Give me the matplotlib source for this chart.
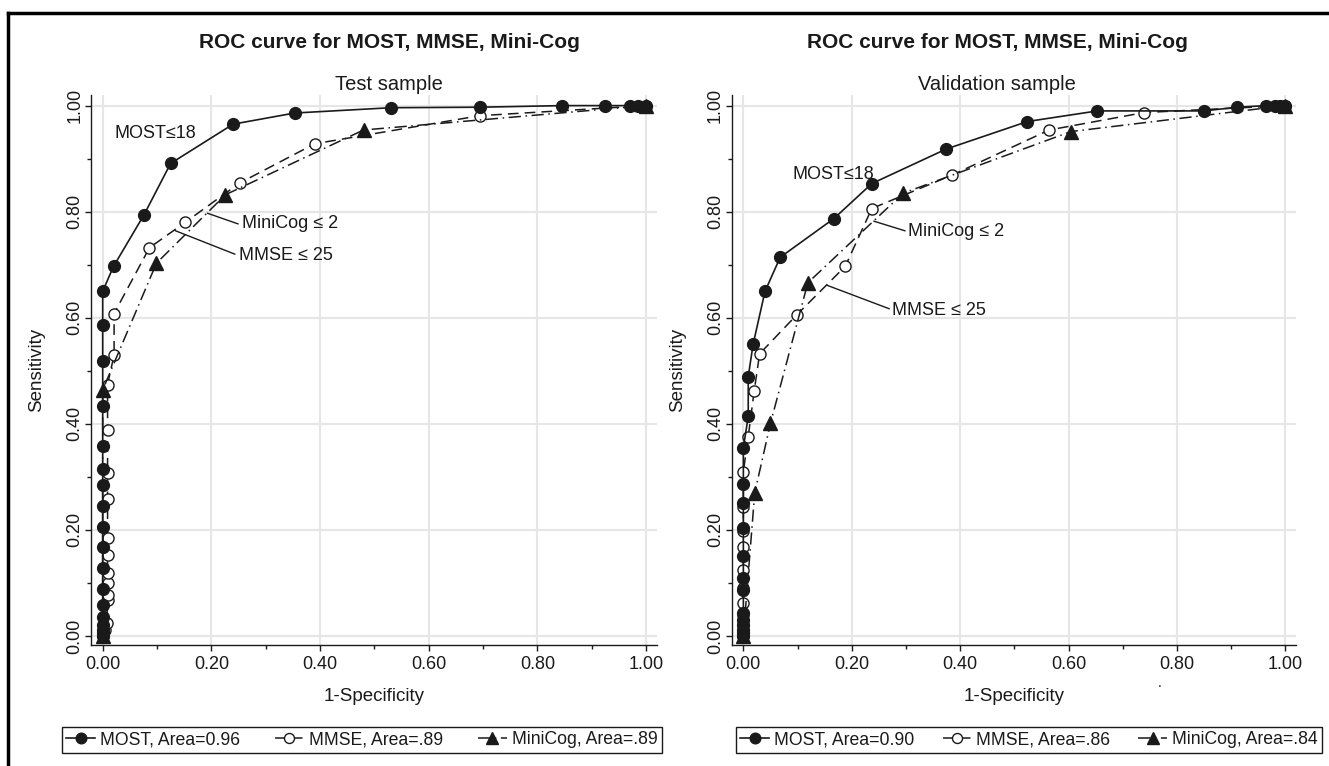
import matplotlib
matplotlib.use("Agg")
import matplotlib.pyplot as plt
from matplotlib.lines import Line2D
from matplotlib.ticker import MultipleLocator, FormatStrFormatter

plt.rcParams['font.family'] = ['Liberation Sans', 'DejaVu Sans']

# ---------------- data ----------------
# Test sample
test_most_fpr = [0, 0, 0, 0, 0, 0, 0, 0, 0, 0, 0, 0, 0, 0, 0, 0, 0, 0,
                 0.02, 0.076, 0.125, 0.24, 0.353, 0.53, 0.694, 0.846, 0.924, 0.97, 0.985, 1.0]
test_most_sens = [0, 0.005, 0.012, 0.02, 0.035, 0.058, 0.088, 0.128, 0.168, 0.205, 0.246,
                  0.285, 0.315, 0.358, 0.433, 0.519, 0.587, 0.650,
                  0.697, 0.794, 0.891, 0.965, 0.986, 0.996, 0.997, 1.0, 1.0, 1.0, 1.0, 1.0]

test_mmse_fpr = [0, 0.004, 0.008, 0.009, 0.009, 0.009, 0.009, 0.009, 0.009, 0.009, 0.009,
                 0.009, 0.009, 0.021, 0.021, 0.086, 0.152, 0.252, 0.39, 0.694, 1.0]
test_mmse_sens = [0, 0.012, 0.025, 0.068, 0.077, 0.10, 0.119, 0.152, 0.184, 0.258, 0.307,
                  0.389, 0.474, 0.530, 0.608, 0.732, 0.780, 0.854, 0.928, 0.981, 1.0]

test_mini_fpr = [0, 0, 0.099, 0.226, 0.48, 1.0]
test_mini_sens = [0, 0.464, 0.703, 0.832, 0.954, 1.0]

# Validation sample
val_most_fpr = [0, 0, 0, 0, 0, 0, 0, 0, 0, 0, 0, 0, 0,
                0.009, 0.009, 0.018, 0.04, 0.068, 0.167, 0.237, 0.374, 0.524, 0.653,
                0.85, 0.911, 0.965, 0.98, 0.99, 1.0]
val_most_sens = [0, 0.005, 0.012, 0.02, 0.03, 0.043, 0.087, 0.109, 0.151, 0.204, 0.251,
                 0.287, 0.355,
                 0.414, 0.489, 0.550, 0.650, 0.714, 0.787, 0.853, 0.918, 0.970, 0.990,
                 0.990, 0.997, 1.0, 1.0, 1.0, 1.0]

val_mmse_fpr = [0, 0, 0, 0, 0, 0, 0, 0, 0, 0,
                0.009, 0.02, 0.03, 0.099, 0.188, 0.237, 0.385, 0.564, 0.74, 1.0]
val_mmse_sens = [0, 0.02, 0.04, 0.062, 0.09, 0.125, 0.168, 0.197, 0.244, 0.310,
                 0.376, 0.462, 0.532, 0.606, 0.697, 0.806, 0.869, 0.954, 0.987, 1.0]

val_mini_fpr = [0, 0.021, 0.05, 0.119, 0.295, 0.604, 1.0]
val_mini_sens = [0, 0.27, 0.401, 0.666, 0.835, 0.951, 1.0]

titles = ["ROC curve for MOST, MMSE, Mini-Cog", "ROC curve for MOST, MMSE, Mini-Cog"]
subtitles = ["Test sample", "Validation sample"]
legend_labels = [["MOST, Area=0.96", "MMSE, Area=.89", "MiniCog, Area=.89"],
                 ["MOST, Area=0.90", "MMSE, Area=.86", "MiniCog, Area=.84"]]

panels = [
    dict(most=(test_most_fpr, test_most_sens), mmse=(test_mmse_fpr, test_mmse_sens),
         mini=(test_mini_fpr, test_mini_sens)),
    dict(most=(val_most_fpr, val_most_sens), mmse=(val_mmse_fpr, val_mmse_sens),
         mini=(val_mini_fpr, val_mini_sens)),
]

# annotations: (text, text_xy, leader line (start, end) or None)
annots = [
    [("MOST\u226418", (0.022, 0.948), None),
     ("MiniCog \u2264 2", (0.257, 0.777), ((0.193, 0.797), (0.249, 0.777))),
     ("MMSE \u2264 25", (0.25, 0.718), ((0.134, 0.764), (0.243, 0.72)))],
    [("MOST\u226418", (0.09, 0.871), None),
     ("MiniCog \u2264 2", (0.303, 0.763), ((0.241, 0.782), (0.298, 0.764))),
     ("MMSE \u2264 25", (0.275, 0.614), ((0.155, 0.661), (0.269, 0.617)))],
]

W, H = 1329, 766
fig = plt.figure(figsize=(W / 100, H / 100), dpi=100)
fig.patch.set_facecolor("white")

ax_px = [(91, 656.7), (731.7, 1296)]
ytop_px, ybot_px = 95, 645
legend_px = [(62, 662), (736, 1322)]
title_cx = [389, 997]

ink = "#1a1a1a"

for i, p in enumerate(panels):
    x0, x1 = ax_px[i]
    ax = fig.add_axes([x0 / W, 1 - ybot_px / H, (x1 - x0) / W, (ybot_px - ytop_px) / H])
    ax.set_xlim(-0.0215, 1.0195)
    ax.set_ylim(-0.017, 1.02)
    ax.xaxis.set_major_locator(MultipleLocator(0.2))
    ax.xaxis.set_minor_locator(MultipleLocator(0.1))
    ax.yaxis.set_major_locator(MultipleLocator(0.2))
    ax.yaxis.set_minor_locator(MultipleLocator(0.1))
    ax.xaxis.set_major_formatter(FormatStrFormatter("%.2f"))
    ax.yaxis.set_major_formatter(FormatStrFormatter("%.2f"))
    ax.grid(True, which="major", color="#e6e6e6", lw=1.5)
    ax.set_axisbelow(True)
    for s in ["top", "right"]:
        ax.spines[s].set_visible(False)
    for s in ["left", "bottom"]:
        ax.spines[s].set_color(ink)
        ax.spines[s].set_linewidth(1.0)
    ax.tick_params(axis="both", which="major", length=4.5, width=1, color=ink,
                   labelsize=13, labelcolor=ink)
    ax.tick_params(axis="y", which="major", pad=1)
    ax.tick_params(axis="both", which="minor", length=3, width=1, color=ink)
    for lab in ax.get_yticklabels():
        lab.set_rotation(90)
        lab.set_va("center")
    ax.set_xlabel("1-Specificity", fontsize=13.5, color=ink, labelpad=11)
    ax.set_ylabel("Sensitivity", fontsize=13.5, color=ink, labelpad=15)

    l1, = ax.plot(*p["mmse"], ls=(0, (7, 4)), lw=1.1, color=ink, marker="o", ms=8,
                  mfc="white", mec=ink, mew=1.0, zorder=3)
    l2, = ax.plot(*p["mini"], ls=(0, (8, 3, 1, 3)), lw=1.1, color=ink, marker="^", ms=9.5,
                  mfc=ink, mec=ink, zorder=4)
    l0, = ax.plot(*p["most"], ls="-", lw=1.2, color=ink, marker="o", ms=8.5,
                  mfc=ink, mec=ink, zorder=5)

    for txt, (tx, ty), ln in annots[i]:
        ax.text(tx, ty, txt, fontsize=13, color=ink, va="center", ha="left", zorder=6)
        if ln is not None:
            (ax_, ay_), (bx_, by_) = ln
            ax.plot([ax_, bx_], [ay_, by_], color=ink, lw=1.0, zorder=6)

    fig.text(title_cx[i] / W, 1 - 42 / H, titles[i], ha="center", va="center",
             fontsize=15, fontweight="bold", color=ink)
    fig.text(title_cx[i] / W, 1 - 84 / H, subtitles[i], ha="center", va="center",
             fontsize=14.5, color=ink)

    lx0, lx1 = legend_px[i]
    leg = ax.legend([l0, l1, l2], legend_labels[i], loc="center", ncol=3,
                    bbox_to_anchor=(lx0 / W, 1 - 753 / H, (lx1 - lx0) / W, 26 / H),
                    bbox_transform=fig.transFigure, mode="expand",
                    fontsize=12.7, frameon=True, fancybox=False, framealpha=1,
                    edgecolor=ink, borderpad=0.25, handlelength=1.6, handletextpad=0.3,
                    columnspacing=0.6, borderaxespad=0, markerscale=0.9)
    leg.get_frame().set_linewidth(1.0)
    for t in leg.get_texts():
        t.set_color(ink)

# small stray mark below the right panel's axis title
fig.text(1160 / W, 1 - 683 / H, ".", fontsize=10, color=ink, ha="center", va="center")

# outer border (left and top)
fig.add_artist(Line2D([8 / W, 8 / W], [0, 1 - 13 / H], color="black", lw=2.5,
                      transform=fig.transFigure))
fig.add_artist(Line2D([8 / W, 1], [1 - 13 / H, 1 - 13 / H], color="black", lw=2.5,
                      transform=fig.transFigure))

fig.savefig("out.png", dpi=100, facecolor="white")
